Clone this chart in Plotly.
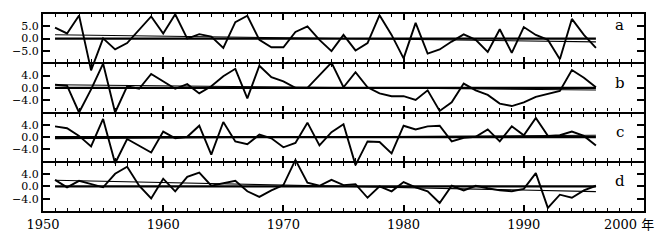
import plotly.graph_objects as go

years = list(range(1951, 1997))

series_a = [4.5, 2.1, 9.4, -12.9, 0.1, -4.4, -1.8, 3.5, 9.0, 2.1,
            9.9, 0.0, 1.8, 0.8, -3.8, 6.7, 9.3, -0.5, -3.5, -3.5,
            2.7, 5.0, -0.5, -5.1, 1.5, -4.8, -1.8, 9.5, 1.5, -8.0,
            6.4, -6.1, -4.4, -1.2, 1.7, -0.5, -5.4, 3.8, -5.8, 4.7,
            1.5, -0.5, -8.4, 8.0, 1.5, -3.8]
series_b = [1.0, 0.7, -8.0, -0.5, 7.9, -8.0, 0.5, -0.3, 4.5, 2.0,
            -0.3, 1.2, -1.8, 0.5, 3.8, 6.2, -3.4, 7.2, 3.5, 2.1,
            0.0, 0.0, 4.0, 8.2, 0.2, 5.1, 0.2, -1.8, -2.7, -2.7,
            -3.9, -0.8, -7.5, -4.7, 1.4, -0.8, -2.3, -5.1, -5.9, -4.7,
            -2.9, -1.9, -1.0, 5.8, 3.3, 0.2]
series_c = [3.5, 2.9, 0.4, -3.0, 5.9, -8.5, -0.6, -2.8, -5.0, 1.8,
            -0.4, 0.1, 3.7, -5.7, 4.9, -1.4, -2.3, 0.8, -0.4, -3.3,
            -1.9, 4.7, -2.7, 1.6, 4.2, -9.1, -1.4, -1.6, -5.3, 3.7,
            2.5, 3.5, 3.7, -1.4, -0.2, 0.1, 2.5, -1.4, 3.5, 0.6,
            6.2, 0.4, 0.6, 1.8, 0.4, -2.7]
series_d = [2.1, -0.3, 1.8, 0.7, -0.3, 4.1, 6.4, 0.2, -3.9, 2.5,
            -1.6, 3.1, 4.5, 0.2, 1.0, 1.8, -1.6, -3.4, -1.3, 0.4,
            8.6, 1.2, 0.2, 2.1, 0.4, 0.7, -3.7, 0.0, -1.6, 1.4,
            -0.3, -1.6, -5.4, 0.2, -1.3, 0.2, -0.6, -1.3, -1.6, -0.8,
            4.3, -7.0, -2.7, -3.7, -1.3, 0.2]

trend_years = [1951, 1996]
trend_a = [1.6, -1.3]
trend_b = [1.0, -0.7]
trend_c = [-0.5, 0.6]
trend_d = [2.0, -1.7]
mean_line = [0.0, 0.0]

panel_labels = ["a", "b", "c", "d"]
ticks_a = [-5, 0, 5]
ticks_bcd = [-4, 0, 4]
x_major = [1950, 1960, 1970, 1980, 1990, 2000]
x_major_text = ["1950", "1960", "1970", "1980", "1990", ""]

SERIF = "DejaVu Serif"
fig = go.Figure()

panels = [(series_a, trend_a, "y"), (series_b, trend_b, "y2"),
          (series_c, trend_c, "y3"), (series_d, trend_d, "y4")]
for s, tr, ya in panels:
    fig.add_trace(go.Scatter(x=trend_years, y=mean_line, yaxis=ya, mode="lines",
                             line=dict(color="black", width=2.2), showlegend=False))
    fig.add_trace(go.Scatter(x=trend_years, y=tr, yaxis=ya, mode="lines",
                             line=dict(color="black", width=1.1), showlegend=False))
    fig.add_trace(go.Scatter(x=years, y=s, yaxis=ya, mode="lines",
                             line=dict(color="black", width=1.9), showlegend=False))

# panel ranges (four bands stacked in one plot area)
ranges = {"yaxis": [-70, 10], "yaxis2": [-40, 24], "yaxis3": [-24, 40], "yaxis4": [-8, 56]}
tickv = {"yaxis": ticks_a, "yaxis2": ticks_bcd, "yaxis3": ticks_bcd, "yaxis4": ticks_bcd}

layout = dict(
    width=665, height=244, autosize=False,
    margin=dict(l=38, r=21, t=12, b=26, pad=0),
    paper_bgcolor="white", plot_bgcolor="white",
    showlegend=False,
    xaxis=dict(range=[1950, 2000], domain=[0, 1], anchor="y",
               tickmode="array", tickvals=x_major, ticktext=x_major_text,
               ticks="inside", ticklen=6, tickwidth=1.5, tickcolor="black",
               showline=True, linewidth=2.2, linecolor="black", mirror="ticks",
               showgrid=False, zeroline=False,
               minor=dict(tickmode="linear", tick0=1950, dtick=1, ticks="inside",
                          ticklen=3, tickwidth=1.2, tickcolor="black", showgrid=False),
               tickfont=dict(family=SERIF, size=13, color="black")),
)
for name in ["yaxis", "yaxis2", "yaxis3", "yaxis4"]:
    d = dict(range=ranges[name], domain=[0, 1], anchor="x", side="left",
             tickmode="array", tickvals=tickv[name], tickformat=".1f",
             ticks="inside", ticklen=7, tickwidth=1.5, tickcolor="black",
             showline=True, linewidth=2.2, linecolor="black", mirror="ticks",
             showgrid=False, zeroline=False,
             tickfont=dict(family=SERIF, size=11, color="black"))
    if name != "yaxis":
        d["overlaying"] = "y"
    layout[name] = d

# separator axes with crossing ticks
seps = [0.75, 0.5, 0.25]
k = 2
for p in seps:
    for side in ["top", "bottom"]:
        layout["xaxis%d" % k] = dict(
            range=[1950, 2000], overlaying="x", anchor="free", position=p, side=side,
            tickmode="array", tickvals=x_major, showticklabels=False,
            ticks="inside", ticklen=5, tickwidth=1.5, tickcolor="black",
            showline=True, linewidth=2.2, linecolor="black",
            showgrid=False, zeroline=False,
            minor=dict(tickmode="linear", tick0=1950, dtick=1, ticks="inside",
                       ticklen=3, tickwidth=1.2, tickcolor="black", showgrid=False))
        fig.add_trace(go.Scatter(x=[None], y=[None], xaxis="x%d" % k, yaxis="y",
                                 mode="lines", showlegend=False, hoverinfo="skip"))
        k += 1

fig.update_layout(**layout)

label_y = [0.942, 0.648, 0.400, 0.152]
for lab, yy in zip(panel_labels, label_y):
    fig.add_annotation(text=lab, xref="paper", yref="paper", x=0.96, y=yy,
                       showarrow=False, xanchor="center", yanchor="middle",
                       font=dict(family=SERIF, size=15, color="black"))

fig.add_annotation(text="2000 <span style='font-family:Noto Sans CJK SC'>年</span>",
                   xref="paper", yref="paper", x=0.975, y=-0.062,
                   showarrow=False, xanchor="center", yanchor="middle",
                   font=dict(family=SERIF, size=13, color="black"))

fig.write_html("out.html", config={"displayModeBar": False},
               post_script="document.body.style.margin='0';document.body.style.overflow='hidden';")
